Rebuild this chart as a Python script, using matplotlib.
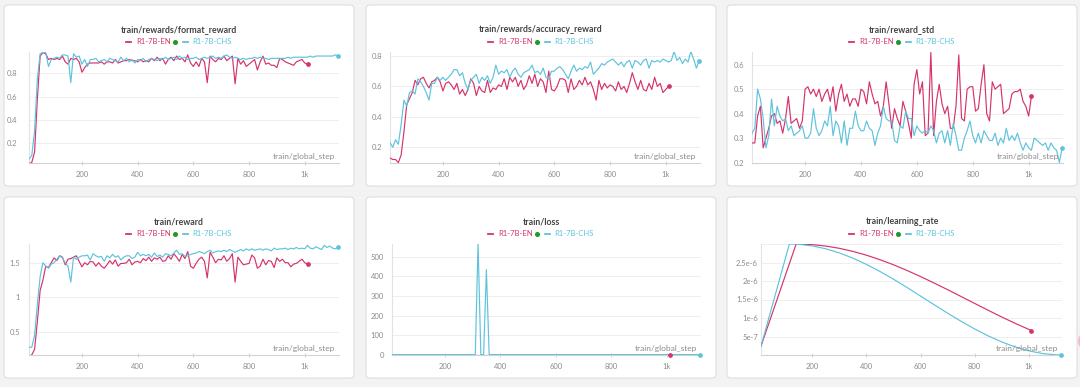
import numpy as np
import matplotlib
matplotlib.use('Agg')
import matplotlib.pyplot as plt
from matplotlib.patches import FancyBboxPatch, Circle
from matplotlib.lines import Line2D
from matplotlib.transforms import IdentityTransform

plt.rcParams['font.family'] = ['Lato', 'DejaVu Sans']

# ---------------- data ----------------
steps_en = np.arange(10, 1011, 10)    # 101 logged steps
steps_chs = np.arange(10, 1121, 10)   # 112 logged steps

format_en = [0.02, 0.03, 0.12, 0.58, 0.95, 0.98, 0.97, 0.92, 0.93, 0.92,
             0.93, 0.92, 0.95, 0.90, 0.88, 0.93, 0.92, 0.93, 0.90, 0.81,
             0.85, 0.88, 0.89, 0.89, 0.89, 0.89, 0.90, 0.88, 0.90, 0.90,
             0.89, 0.92, 0.89, 0.90, 0.91, 0.91, 0.92, 0.91, 0.91, 0.90,
             0.92, 0.90, 0.91, 0.90, 0.93, 0.91, 0.94, 0.91, 0.93, 0.88,
             0.92, 0.94, 0.91, 0.95, 0.92, 0.93, 0.90, 0.96, 0.89, 0.86,
             0.90, 0.86, 0.93, 0.90, 0.72, 0.95, 0.92, 0.90, 0.93, 0.92,
             0.95, 0.91, 0.93, 0.95, 0.71, 0.93, 0.88, 0.91, 0.86, 0.88,
             0.90, 0.92, 0.83, 0.90, 0.95, 0.88, 0.89, 0.87, 0.87, 0.85,
             0.93, 0.92, 0.90, 0.89, 0.88, 0.87, 0.90, 0.91, 0.92, 0.89,
             0.88]
format_chs = [0.06, 0.09, 0.30, 0.75, 0.97, 0.98, 0.98, 0.86, 0.92, 0.93,
              0.94, 0.93, 0.96, 0.96, 0.95, 0.72, 0.97, 0.94, 0.95, 0.88,
              0.92, 0.86, 0.92, 0.92, 0.93, 0.90, 0.91, 0.92, 0.90, 0.93,
              0.92, 0.91, 0.90, 0.94, 0.91, 0.93, 0.90, 0.92, 0.89, 0.92,
              0.91, 0.93, 0.90, 0.92, 0.93, 0.92, 0.91, 0.93, 0.92, 0.94,
              0.92, 0.93, 0.94, 0.92, 0.95, 0.93, 0.94, 0.92, 0.93, 0.93,
              0.94, 0.92, 0.93, 0.94, 0.93, 0.94, 0.95, 0.93, 0.94, 0.93,
              0.95, 0.96, 0.94, 0.93, 0.94, 0.93, 0.92, 0.93, 0.92, 0.93,
              0.93, 0.94, 0.93, 0.94, 0.93, 0.93, 0.92, 0.93, 0.93, 0.93,
              0.93, 0.93, 0.93, 0.94, 0.93, 0.94, 0.94, 0.94, 0.94, 0.94,
              0.94, 0.95, 0.94, 0.95, 0.95, 0.95, 0.95, 0.95, 0.95, 0.95,
              0.96, 0.95]

acc_en = [0.13, 0.12, 0.12, 0.10, 0.15, 0.30, 0.48, 0.52, 0.56, 0.64,
          0.61, 0.65, 0.66, 0.62, 0.59, 0.63, 0.64, 0.66, 0.63, 0.57,
          0.62, 0.63, 0.61, 0.58, 0.62, 0.55, 0.58, 0.54, 0.58, 0.65,
          0.62, 0.54, 0.60, 0.57, 0.56, 0.64, 0.56, 0.59, 0.58, 0.61,
          0.60, 0.65, 0.58, 0.66, 0.63, 0.66, 0.60, 0.64, 0.58, 0.61,
          0.67, 0.62, 0.68, 0.60, 0.65, 0.63, 0.56, 0.70, 0.58, 0.57,
          0.60, 0.65, 0.65, 0.64, 0.56, 0.65, 0.58, 0.60, 0.64, 0.61,
          0.66, 0.61, 0.63, 0.58, 0.51, 0.64, 0.58, 0.62, 0.59, 0.61,
          0.60, 0.57, 0.63, 0.58, 0.60, 0.56, 0.62, 0.69, 0.63, 0.58,
          0.64, 0.58, 0.57, 0.62, 0.58, 0.66, 0.60, 0.62, 0.56, 0.58,
          0.60]
acc_chs = [0.23, 0.20, 0.25, 0.22, 0.35, 0.51, 0.47, 0.56, 0.57, 0.55,
           0.65, 0.63, 0.60, 0.56, 0.51, 0.62, 0.62, 0.66, 0.64, 0.66,
           0.64, 0.66, 0.68, 0.71, 0.71, 0.67, 0.69, 0.62, 0.58, 0.64,
           0.66, 0.68, 0.62, 0.66, 0.64, 0.67, 0.62, 0.66, 0.74, 0.68,
           0.70, 0.69, 0.71, 0.66, 0.70, 0.72, 0.68, 0.66, 0.69, 0.70,
           0.71, 0.74, 0.69, 0.70, 0.68, 0.72, 0.66, 0.65, 0.70, 0.70,
           0.72, 0.73, 0.71, 0.68, 0.65, 0.70, 0.74, 0.70, 0.72, 0.71,
           0.73, 0.72, 0.76, 0.68, 0.70, 0.72, 0.75, 0.74, 0.76, 0.77,
           0.78, 0.76, 0.74, 0.76, 0.73, 0.76, 0.77, 0.72, 0.77, 0.76,
           0.74, 0.77, 0.78, 0.72, 0.77, 0.76, 0.77, 0.76, 0.78, 0.77,
           0.76, 0.77, 0.83, 0.77, 0.79, 0.75, 0.78, 0.76, 0.83, 0.78,
           0.72, 0.77]

std_en = [0.28, 0.28, 0.39, 0.43, 0.26, 0.30, 0.34, 0.39, 0.40, 0.36,
          0.37, 0.32, 0.38, 0.47, 0.36, 0.37, 0.38, 0.34, 0.37, 0.50,
          0.51, 0.48, 0.50, 0.47, 0.50, 0.45, 0.48, 0.50, 0.45, 0.51,
          0.41, 0.48, 0.52, 0.45, 0.48, 0.43, 0.46, 0.46, 0.43, 0.50,
          0.49, 0.44, 0.53, 0.48, 0.44, 0.45, 0.39, 0.43, 0.53, 0.44,
          0.34, 0.42, 0.38, 0.35, 0.45, 0.41, 0.36, 0.30, 0.52, 0.58,
          0.48, 0.53, 0.31, 0.32, 0.65, 0.31, 0.45, 0.52, 0.44, 0.40,
          0.43, 0.34, 0.34, 0.43, 0.64, 0.38, 0.37, 0.50, 0.51, 0.51,
          0.41, 0.42, 0.52, 0.60, 0.40, 0.37, 0.53, 0.50, 0.51, 0.52,
          0.40, 0.41, 0.42, 0.48, 0.49, 0.49, 0.50, 0.45, 0.43, 0.39,
          0.47]
std_chs = [0.32, 0.34, 0.50, 0.46, 0.38, 0.26, 0.31, 0.46, 0.35, 0.43,
           0.39, 0.37, 0.38, 0.33, 0.35, 0.31, 0.32, 0.33, 0.35, 0.30,
           0.30, 0.32, 0.42, 0.34, 0.31, 0.33, 0.37, 0.35, 0.43, 0.31,
           0.37, 0.35, 0.28, 0.37, 0.27, 0.34, 0.34, 0.41, 0.35, 0.33,
           0.33, 0.37, 0.34, 0.33, 0.27, 0.32, 0.35, 0.43, 0.38, 0.37,
           0.37, 0.29, 0.28, 0.35, 0.34, 0.41, 0.38, 0.38, 0.31, 0.35,
           0.33, 0.32, 0.33, 0.32, 0.35, 0.33, 0.28, 0.32, 0.33, 0.28,
           0.33, 0.27, 0.36, 0.31, 0.25, 0.25, 0.30, 0.33, 0.37, 0.31,
           0.28, 0.32, 0.28, 0.33, 0.31, 0.29, 0.29, 0.32, 0.27, 0.30,
           0.28, 0.34, 0.29, 0.31, 0.29, 0.32, 0.28, 0.25, 0.28, 0.26,
           0.25, 0.30, 0.29, 0.28, 0.27, 0.28, 0.25, 0.28, 0.26, 0.25,
           0.20, 0.26]

reward_en = [0.15, 0.17, 0.25, 0.65, 1.10, 1.25, 1.45, 1.43, 1.50, 1.57,
             1.53, 1.60, 1.58, 1.47, 1.55, 1.56, 1.58, 1.60, 1.52, 1.44,
             1.50, 1.47, 1.52, 1.51, 1.45, 1.50, 1.45, 1.42, 1.47, 1.53,
             1.48, 1.54, 1.45, 1.49, 1.49, 1.50, 1.55, 1.47, 1.51, 1.52,
             1.50, 1.56, 1.53, 1.58, 1.52, 1.57, 1.55, 1.58, 1.52, 1.53,
             1.60, 1.55, 1.63, 1.58, 1.52, 1.62, 1.56, 1.66, 1.45, 1.42,
             1.49, 1.55, 1.58, 1.52, 1.28, 1.65, 1.58, 1.50, 1.55, 1.54,
             1.60, 1.52, 1.56, 1.63, 1.22, 1.58, 1.52, 1.47, 1.48, 1.49,
             1.61, 1.57, 1.42, 1.45, 1.55, 1.47, 1.53, 1.52, 1.43, 1.57,
             1.52, 1.55, 1.50, 1.50, 1.44, 1.48, 1.49, 1.52, 1.55, 1.50,
             1.48]
reward_chs = [0.28, 0.28, 0.45, 0.90, 1.30, 1.50, 1.45, 1.42, 1.48, 1.50,
              1.55, 1.60, 1.57, 1.50, 1.45, 1.22, 1.58, 1.55, 1.58, 1.60,
              1.60, 1.61, 1.54, 1.63, 1.60, 1.58, 1.59, 1.52, 1.60, 1.57,
              1.62, 1.58, 1.60, 1.54, 1.58, 1.60, 1.60, 1.56, 1.58, 1.65,
              1.60, 1.62, 1.60, 1.62, 1.58, 1.64, 1.59, 1.61, 1.58, 1.63,
              1.62, 1.60, 1.64, 1.68, 1.62, 1.63, 1.59, 1.60, 1.62, 1.63,
              1.64, 1.66, 1.65, 1.63, 1.66, 1.68, 1.64, 1.66, 1.67, 1.66,
              1.68, 1.66, 1.69, 1.67, 1.65, 1.67, 1.69, 1.67, 1.70, 1.68,
              1.70, 1.68, 1.69, 1.70, 1.68, 1.70, 1.69, 1.67, 1.71, 1.69,
              1.70, 1.70, 1.71, 1.69, 1.71, 1.70, 1.72, 1.70, 1.71, 1.70,
              1.75, 1.71, 1.70, 1.73, 1.71, 1.69, 1.75, 1.72, 1.74, 1.71,
              1.70, 1.72]

loss_en = [0.0] * 101
loss_chs = [0.0] * 31 + [570.0, 0.0, 0.0, 435.0] + [0.0] * 77

lr_steps_en = [10, 140, 200, 250, 300, 350, 400, 450, 500, 550, 600, 650,
               700, 750, 800, 850, 900, 950, 1010]
lr_en = [0.24e-6, 3.0e-6, 2.983e-6, 2.944e-6, 2.883e-6, 2.800e-6, 2.697e-6,
         2.576e-6, 2.438e-6, 2.285e-6, 2.120e-6, 1.946e-6, 1.766e-6, 1.580e-6,
         1.394e-6, 1.209e-6, 1.028e-6, 0.855e-6, 0.661e-6]
lr_steps_chs = [10, 115, 150, 200, 250, 300, 350, 400, 450, 500, 550, 600,
                650, 700, 750, 800, 850, 900, 950, 1000, 1050, 1100, 1120]
lr_chs = [0.24e-6, 3.0e-6, 2.991e-6, 2.948e-6, 2.870e-6, 2.758e-6, 2.617e-6,
          2.448e-6, 2.257e-6, 2.048e-6, 1.824e-6, 1.593e-6, 1.360e-6, 1.131e-6,
          0.910e-6, 0.704e-6, 0.517e-6, 0.353e-6, 0.217e-6, 0.112e-6, 0.041e-6,
          0.005e-6, 0.0]

titles = ['train/rewards/format_reward', 'train/rewards/accuracy_reward',
          'train/reward_std', 'train/reward', 'train/loss', 'train/learning_rate']
series_names = ['R1-7B-EN', 'R1-7B-CHS']
x_ticks = [200, 400, 600, 800, 1000]
x_tick_labels = ['200', '400', '600', '800', '1k']

# ---------------- style / layout ----------------
W, H = 1080, 387
EN_C = '#d6336c'
CHS_C = '#5ec3dc'
GRAY = '#8c8c8c'

fig = plt.figure(figsize=(W / 100, H / 100), dpi=100, facecolor='#f3f3f3')
IT = IdentityTransform()

cards = [(4, 5, 354, 186), (366, 5, 716, 186), (727, 5, 1077, 186),
         (4, 197, 354, 378), (366, 197, 716, 378), (727, 197, 1077, 378)]
axes_px = [(29, 52, 339, 163), (390, 52, 700, 163), (752, 52, 1063, 163),
           (29, 244, 339, 355), (392, 244, 701, 355), (761, 244, 1062, 355)]
ypads = [12, 8, 8, 9, 8, 3]

for (x0, y0, x1, y1) in cards:
    p = FancyBboxPatch((x0, H - y1), x1 - x0, y1 - y0,
                       boxstyle='round,pad=0,rounding_size=4',
                       transform=IT, facecolor='white', edgecolor='#e1e1e1',
                       linewidth=0.9, zorder=0)
    fig.add_artist(p)

# pink floating circle at right edge
fig.add_artist(Circle((1088, H - 341), 10, transform=IT, facecolor='#f6b8d2',
                      edgecolor='none', zorder=0))

panel_data = [
    (steps_en, format_en, steps_chs, format_chs),
    (steps_en, acc_en, steps_chs, acc_chs),
    (steps_en, std_en, steps_chs, std_chs),
    (steps_en, reward_en, steps_chs, reward_chs),
    (steps_en, loss_en, steps_chs, loss_chs),
    (lr_steps_en, lr_en, lr_steps_chs, lr_chs),
]
ylims = [(0.025, 0.985), (0.097, 0.826), (0.198, 0.652), (0.168, 1.77),
         (-2, 566), (0, 3.0e-6)]
yticks = [[0.2, 0.4, 0.6, 0.8], [0.2, 0.4, 0.6, 0.8],
          [0.2, 0.3, 0.4, 0.5, 0.6], [0.5, 1.0, 1.5],
          [0, 100, 200, 300, 400, 500],
          [5e-7, 1e-6, 1.5e-6, 2e-6, 2.5e-6, 3e-6]]
ytlabels = [['0.2', '0.4', '0.6', '0.8'], ['0.2', '0.4', '0.6', '0.8'],
            ['0.2', '0.3', '0.4', '0.5', '0.6'], ['0.5', '1', '1.5'],
            ['0', '100', '200', '300', '400', '500'],
            ['5e-7', '1e-6', '1.5e-6', '2e-6', '2.5e-6', '']]

renderer = fig.canvas.get_renderer()

for i in range(6):
    l, t, r, b = axes_px[i]
    ax = fig.add_axes([l / W, 1 - b / H, (r - l) / W, (b - t) / H])
    ax.patch.set_alpha(0)
    xe, ye, xc, yc = panel_data[i]
    ax.plot(xe, ye, color=EN_C, lw=0.85, zorder=3)
    ax.plot(xc, yc, color=CHS_C, lw=0.85, zorder=4)
    ax.plot([xe[-1]], [ye[-1]], 'o', ms=2.4, color=EN_C, zorder=5, clip_on=False)
    ax.plot([xc[-1]], [yc[-1]], 'o', ms=2.4, color=CHS_C, zorder=5, clip_on=False)
    ax.set_xlim(10, 1123)
    ax.set_ylim(*ylims[i])
    ax.set_xticks(x_ticks)
    ax.set_xticklabels(x_tick_labels)
    ax.set_yticks(yticks[i])
    ax.set_yticklabels(ytlabels[i])
    for s in ['top', 'right']:
        ax.spines[s].set_visible(False)
    ax.spines['left'].set_color('#e3e3e3')
    ax.spines['left'].set_linewidth(0.8)
    ax.spines['bottom'].set_color('#d2d2d2')
    ax.spines['bottom'].set_linewidth(0.8)
    ax.tick_params(axis='y', length=0, labelsize=5.5, labelcolor=GRAY,
                   pad=ypads[i] * 0.72)
    ax.tick_params(axis='x', length=3, direction='inout', color='#d2d2d2',
                   width=0.7, labelsize=5.5, labelcolor=GRAY, pad=4)
    ax.yaxis.grid(True, color='#eeeeee', lw=0.7)
    ax.set_axisbelow(True)
    ax.text(0.987, 0.057, 'train/global_step', transform=ax.transAxes,
            ha='right', va='center', fontsize=6, color=GRAY, zorder=6)

    # title and legend, centred on the card
    cx0, cy0, cx1, cy1 = cards[i]
    cx = (cx0 + cx1) / 2
    ty = cy0 + 25
    ly = cy0 + 37
    fig.text(cx, H - ty, titles[i], transform=IT, ha='center', va='center',
             fontsize=6.3, fontweight='bold', color='#444444')
    t1 = fig.text(0, H - ly, series_names[0], transform=IT, ha='left',
                  va='center', fontsize=5.5, color=EN_C)
    t2 = fig.text(0, H - ly, series_names[1], transform=IT, ha='left',
                  va='center', fontsize=5.5, color=CHS_C)
    w1 = t1.get_window_extent(renderer).width
    w2 = t2.get_window_extent(renderer).width
    dash, g1, g2, g3 = 5, 5, 5, 7
    total = dash + g1 + w1 + g2 + g3 + dash + g1 + w2
    x = cx - total / 2
    fig.add_artist(Line2D([x, x + dash], [H - ly, H - ly], transform=IT,
                          color=EN_C, lw=1.3))
    x += dash + g1
    t1.set_x(x)
    x += w1 + g2 - 1
    fig.add_artist(Line2D([x], [H - ly], transform=IT, marker='o', ms=2.6,
                          color='#1f9a2a', lw=0))
    x += g3 + 1
    fig.add_artist(Line2D([x, x + dash], [H - ly, H - ly], transform=IT,
                          color=CHS_C, lw=1.3))
    x += dash + g1
    t2.set_x(x)

fig.savefig('out.png', dpi=100, facecolor=fig.get_facecolor())
